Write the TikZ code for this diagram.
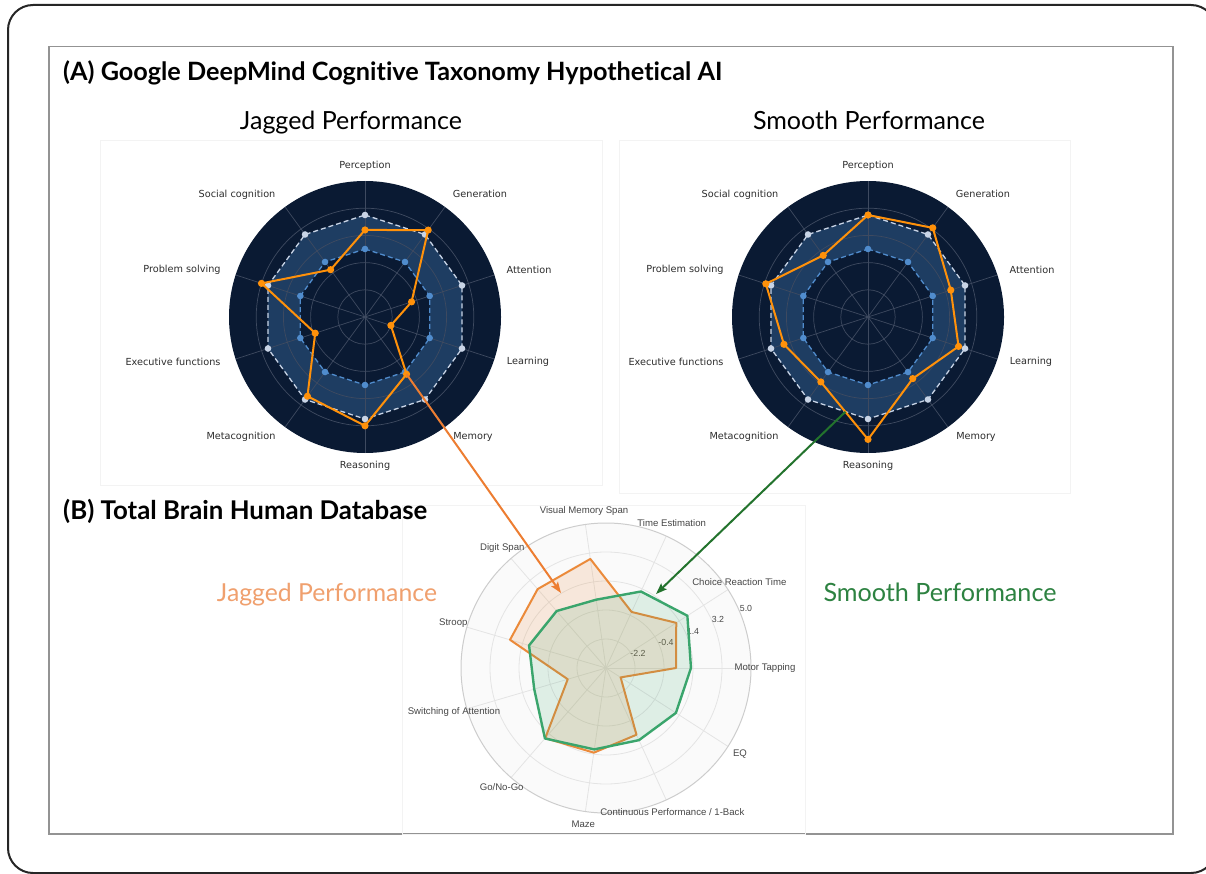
\documentclass[tikz,border=0pt]{standalone}
\usepackage{fontspec}
\usepackage{graphicx}
\setmainfont{Liberation Sans}
\newfontfamily\dejavu{DejaVu Sans}
\newfontfamily\lato[Ligatures=NoCommon]{Lato}
\usetikzlibrary{arrows.meta,calc}
\definecolor{navy}{RGB}{10,26,51}
\definecolor{band}{RGB}{30,61,98}
\definecolor{gridd}{RGB}{62,74,96}
\definecolor{orgA}{RGB}{255,145,10}
\definecolor{dashW}{RGB}{200,212,230}
\definecolor{dashB}{RGB}{80,140,205}
\definecolor{labg}{RGB}{45,45,45}
\definecolor{blab}{RGB}{70,70,70}
\definecolor{jagO}{RGB}{235,138,58}
\definecolor{smoG}{RGB}{58,165,108}
\definecolor{arrO}{RGB}{237,125,49}
\definecolor{arrG}{RGB}{35,115,45}
\definecolor{txtO}{RGB}{240,160,110}
\definecolor{txtG}{RGB}{45,130,65}
\definecolor{lgridc}{RGB}{228,228,228}
\definecolor{ringc}{RGB}{205,205,205}
\definecolor{panelc}{RGB}{243,243,243}
\tikzset{
  gridline/.style={draw=gridd, line width=0.7pt},
  dashedW/.style={draw=dashW, line width=1.3pt, dash pattern=on 5pt off 3pt},
  dashedB/.style={draw=dashB, line width=1.3pt, dash pattern=on 5pt off 3pt},
  orgline/.style={draw=orgA, line width=2pt, line join=round},
  toplab/.style={font=\dejavu\fontsize{9.7}{11}\selectfont, text=labg, inner sep=0pt},
  botlab/.style={font=\fontsize{9.6}{11}\selectfont, text=blab, inner sep=0pt},
  ticklab/.style={font=\fontsize{8.8}{10}\selectfont, text=blab, inner sep=0pt},
  lgrid/.style={draw=lgridc, line width=0.8pt},
  panel/.style={draw=panelc, line width=0.8pt},
  arrowO/.style={draw=arrO, line width=2pt, -{Stealth[length=11pt,width=8pt,inset=2pt]}},
  arrowG/.style={draw=arrG, line width=2pt, -{Stealth[length=11pt,width=8pt,inset=2pt]}},
}
\newcommand\topradar[3]{%
\begin{scope}[shift={#1}, y=1pt]
 \fill[navy] (0,0) circle (136);
 \fill[band] (90:102) \foreach \i in {1,...,9}{ -- ({90-36*\i}:102)} -- cycle;
 \fill[navy] (90:68) \foreach \i in {1,...,9}{ -- ({90-36*\i}:68)} -- cycle;
 \foreach \r in {27.2,54.4,81.6,108.8}{\draw[gridline] (0,0) circle (\r);}
 \foreach \i in {0,...,9}{\draw[gridline] (0,0) -- ({90-36*\i}:136);}
 \draw[dashedW] (90:102) \foreach \i in {1,...,9}{ -- ({90-36*\i}:102)} -- cycle;
 \draw[dashedB] (90:68) \foreach \i in {1,...,9}{ -- ({90-36*\i}:68)} -- cycle;
 \foreach \i in {0,...,9}{\fill[dashW] ({90-36*\i}:102) circle (3.3); \fill[dashB] ({90-36*\i}:68) circle (3.3);}
 \foreach \v [count=\i from 0] in {#2}{\coordinate (#3-\i) at ({90-36*\i}:{\v*136});}
 \draw[orgline] (#3-0) -- (#3-1) -- (#3-2) -- (#3-3) -- (#3-4) -- (#3-5) -- (#3-6) -- (#3-7) -- (#3-8) -- (#3-9) -- cycle;
 \foreach \i in {0,...,9}{\fill[orgA] (#3-\i) circle (3.6);}
 \node[toplab] (#3-lper) at (0,151) {Perception};
 \node[toplab] (#3-lgen) at (115,123) {Generation};
 \node[toplab] (#3-latt) at (164,47) {Attention};
 \node[toplab] (#3-llea) at (163,-45) {Learning};
 \node[toplab] (#3-lmem) at (108,-120) {Memory};
 \node[toplab] (#3-lrea) at (0,-148.5) {Reasoning};
 \node[toplab] (#3-lmet) at (-124,-120) {Metacognition};
 \node[toplab] (#3-lexe) at (-192,-45) {Executive functions};
 \node[toplab] (#3-lpro) at (-183,47) {Problem solving};
 \node[toplab] (#3-lsoc) at (-128,122) {Social cognition};
\end{scope}}
\begin{document}
\begin{tikzpicture}[x=1pt,y=-1pt]
\useasboundingbox (0,0) rectangle (1206,874);
\begin{scope}
\clip (0,0) rectangle (1206,874);
\fill[white] (0,0) rectangle (1206,874);
\draw[line width=2pt, draw=black!85, rounded corners=25pt] (8,5) rectangle (1216,873);
\end{scope}
\draw[draw=gray!85, line width=1.3pt] (49,46.5) rectangle (1173,834);
% faint panels
\draw[panel] (100,140) rectangle (602,485);
\draw[panel] (619,140) rectangle (1070,493);
\draw[panel] (402,505) rectangle (805,834);
% titles
\node[anchor=base west, inner sep=0pt] (titleA) at (63,81) {\resizebox{659pt}{!}{\lato\bfseries (A) Google DeepMind Cognitive Taxonomy Hypothetical AI}};
\node[anchor=base, inner sep=0pt] (jagT) at (351,130) {\resizebox{222pt}{!}{\lato Jagged Performance}};
\node[anchor=base, inner sep=0pt] (smoT) at (869,130) {\resizebox{232pt}{!}{\lato Smooth Performance}};
% radars
\topradar{(365,317)}{0.64,0.79,0.36,0.20,0.52,0.80,0.72,0.385,0.80,0.43}{jag}
\topradar{(868,317)}{0.75,0.81,0.64,0.70,0.56,0.90,0.59,0.65,0.79,0.56}{smo}
% part B
\node[anchor=base west, inner sep=0pt] (titleB) at (63,519) {\resizebox{364pt}{!}{\lato\bfseries (B) Total Brain Human Database}};
\node[anchor=base, inner sep=0pt, text=txtO] (jagB) at (327,601) {\resizebox{220pt}{!}{\lato Jagged Performance}};
\node[anchor=base, inner sep=0pt, text=txtG] (smoB) at (940,601) {\resizebox{233pt}{!}{\lato Smooth Performance}};
\begin{scope}[shift={(606,668)}, y=1pt]
 \fill[gray!4] (0,0) circle (145);
 \foreach \r in {29,58,87,116}{\draw[lgrid] (0,0) circle (\r);}
 \foreach \i in {0,...,10}{\draw[lgrid] (0,0) -- ({360/11*\i}:145);}
 \draw[draw=ringc, line width=1pt] (0,0) circle (145);
 \node[ticklab] (t1) at (32,15) {-2.2};
 \node[ticklab] (t2) at (60,26) {-0.4};
 \node[ticklab] (t3) at (87,37) {1.4};
 \node[ticklab] (t4) at (112,49) {3.2};
 \node[ticklab] (t5) at (140,60) {5.0};
 \foreach \v [count=\i from 0] in {0.483,0.576,0.425,0.76,0.72,0.69,0.275,0.64,0.59,0.506,0.12}{\coordinate (bo-\i) at ({360/11*\i}:{\v*145});}
 \foreach \v [count=\i from 0] in {0.586,0.667,0.58,0.476,0.52,0.553,0.516,0.643,0.567,0.547,0.573}{\coordinate (bg-\i) at ({360/11*\i}:{\v*145});}
 \fill[jagO, fill opacity=0.16] (bo-0) -- (bo-1) -- (bo-2) -- (bo-3) -- (bo-4) -- (bo-5) -- (bo-6) -- (bo-7) -- (bo-8) -- (bo-9) -- (bo-10) -- cycle;
 \draw[jagO, line width=2pt, line join=round] (bo-0) -- (bo-1) -- (bo-2) -- (bo-3) -- (bo-4) -- (bo-5) -- (bo-6) -- (bo-7) -- (bo-8) -- (bo-9) -- (bo-10) -- cycle;
 \fill[smoG, fill opacity=0.14] (bg-0) -- (bg-1) -- (bg-2) -- (bg-3) -- (bg-4) -- (bg-5) -- (bg-6) -- (bg-7) -- (bg-8) -- (bg-9) -- (bg-10) -- cycle;
 \draw[smoG, line width=2.4pt, line join=round] (bg-0) -- (bg-1) -- (bg-2) -- (bg-3) -- (bg-4) -- (bg-5) -- (bg-6) -- (bg-7) -- (bg-8) -- (bg-9) -- (bg-10) -- cycle;
 \node[botlab] (bvms) at (-22,157) {Visual Memory Span};
 \node[botlab] (bte) at (65.7,144.7) {Time Estimation};
 \node[botlab] (bcrt) at (133.3,86.3) {Choice Reaction Time};
 \node[botlab] (bmt) at (159,0.3) {Motor Tapping};
 \node[botlab] (beq) at (134,-86) {EQ};
 \node[botlab] (bcpt) at (66.3,-143.7) {Continuous Performance / 1-Back};
 \node[botlab] (bmaze) at (-22.7,-156.3) {Maze};
 \node[botlab] (bgng) at (-104.3,-118.7) {Go/No-Go};
 \node[botlab] (bsoa) at (-152,-44.3) {Switching of Attention};
 \node[botlab] (bstr) at (-152.7,45.3) {Stroop};
 \node[botlab] (bds) at (-103.7,119.7) {Digit Span};
\end{scope}
% arrows
\coordinate (jtip) at (561,593);
\coordinate (stip) at (656,594);
\coordinate (sstart) at ($(smo-6)!0.52!(smo-5)$);
\draw[arrowO] (jag-4) -- (jtip);
\draw[arrowG] (sstart) -- (stip);
\end{tikzpicture}
\end{document}
